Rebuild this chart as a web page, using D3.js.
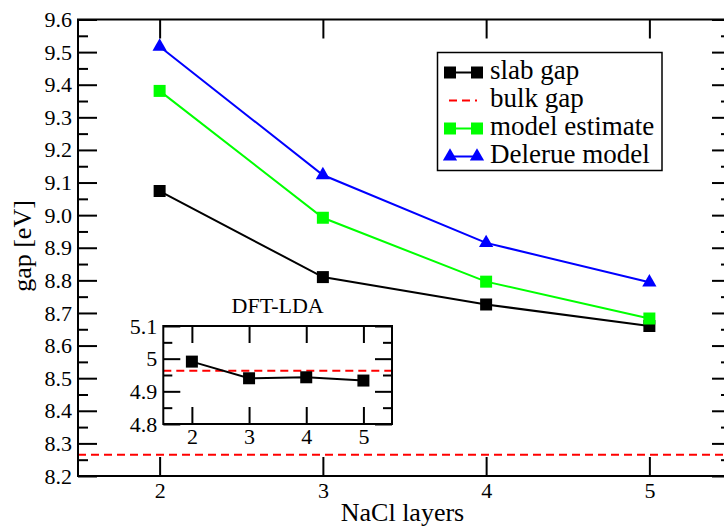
<!DOCTYPE html>
<html>
<head>
<meta charset="utf-8">
<script src="https://cdn.jsdelivr.net/npm/d3@7"></script>
<style>
  body { margin: 0; background: #fff; }
  svg { display: block; font-family: "Liberation Serif", "Times New Roman", serif; }
</style>
</head>
<body>
<div id="chart"></div>
<script>
// layers on the x axis
let layers = [2, 3, 4, 5];

// main panel values [eV]
let slabGap = [9.074, 8.81, 8.726, 8.66];
let modelEstimate = [9.381, 8.992, 8.796, 8.683];
let delerueModel = [9.517, 9.123, 8.915, 8.794];
let bulkGap = 8.265;

// inset (DFT-LDA) values [eV]
let ldaSlab = [4.991, 4.94, 4.943, 4.933];
let ldaBulk = 4.963;

let mainYTicks = [8.2, 8.3, 8.4, 8.5, 8.6, 8.7, 8.8, 8.9, 9.0, 9.1, 9.2, 9.3, 9.4, 9.5, 9.6];
let insetYTicks = [4.8, 4.9, 5.0, 5.1];

let legendItems = [
    {label: "slab gap", color: "#000", marker: "square", dashed: false},
    {label: "bulk gap", color: "#ff0000", marker: null, dashed: true},
    {label: "model estimate", color: "#00ff00", marker: "square", dashed: false},
    {label: "Delerue model", color: "#0000ff", marker: "triangle", dashed: false}
];

let width = 724, height = 527;

let svg = d3.select("#chart").append("svg")
    .attr("width", width)
    .attr("height", height);

// main panel
let box = {left: 78, right: 731, top: 19.5, bottom: 476};

let x = d3.scaleLinear().domain([1.5, 5.5]).range([box.left, box.right]);
let y = d3.scaleLinear().domain([8.2, 9.6]).range([box.bottom, box.top]);

let square = d3.symbol().type(d3.symbolSquare).size(144);
let triangle = d3.symbol().type(d3.symbolTriangle).size(88);

// ticks on all four sides, pointing inward, plus the frame
function drawTicks(g, xs, ys, xs_, ys_, b, major, minor, fmtY, fs, padX, padY) {
    let yMinor = [];
    for (let i = 0; i < ys.length - 1; i++) yMinor.push((ys[i] + ys[i + 1]) / 2);

    g.append("g")
        .attr("transform", `translate(${b.left},0)`)
        .call(d3.axisLeft(ys_).tickValues(ys).tickSizeInner(-major).tickSizeOuter(0).tickPadding(padY).tickFormat(fmtY));
    g.append("g")
        .attr("transform", `translate(${b.left},0)`)
        .call(d3.axisLeft(ys_).tickValues(yMinor).tickSizeInner(-minor).tickSizeOuter(0).tickFormat(""));
    g.append("g")
        .attr("transform", `translate(${b.right},0)`)
        .call(d3.axisRight(ys_).tickValues(ys).tickSizeInner(-major).tickSizeOuter(0).tickFormat(""));
    g.append("g")
        .attr("transform", `translate(${b.right},0)`)
        .call(d3.axisRight(ys_).tickValues(yMinor).tickSizeInner(-minor).tickSizeOuter(0).tickFormat(""));
    g.append("g")
        .attr("transform", `translate(0,${b.bottom})`)
        .call(d3.axisBottom(xs_).tickValues(xs).tickSizeInner(-major).tickSizeOuter(0).tickPadding(padX).tickFormat(d3.format("d")));
    g.append("g")
        .attr("transform", `translate(0,${b.top})`)
        .call(d3.axisTop(xs_).tickValues(xs).tickSizeInner(-major).tickSizeOuter(0).tickFormat(""));

    g.selectAll(".domain").remove();
    g.selectAll(".tick line").attr("stroke", "#000").attr("stroke-width", 2);
    g.selectAll(".tick text")
        .attr("fill", "#000")
        .style("font-family", '"Liberation Serif", serif')
        .style("font-size", fs + "px");

    g.append("rect")
        .attr("x", b.left).attr("y", b.top)
        .attr("width", b.right - b.left).attr("height", b.bottom - b.top)
        .attr("fill", "none").attr("stroke", "#000").attr("stroke-width", 2);
}

let main = svg.append("g");

// bulk gap
main.append("line")
    .attr("x1", box.left).attr("x2", box.right)
    .attr("y1", y(bulkGap)).attr("y2", y(bulkGap))
    .attr("stroke", "#ff0000").attr("stroke-width", 2)
    .attr("stroke-dasharray", "8,5");

let line = d3.line().x((d, i) => x(layers[i])).y(d => y(d));

let series = [
    {values: slabGap, color: "#000", marker: "square"},
    {values: modelEstimate, color: "#00ff00", marker: "square"},
    {values: delerueModel, color: "#0000ff", marker: "triangle"}
];

series.forEach(s => {
    main.append("path")
        .datum(s.values)
        .attr("d", line)
        .attr("fill", "none")
        .attr("stroke", s.color)
        .attr("stroke-width", 2);
    main.selectAll(null)
        .data(s.values)
        .enter().append("path")
        .attr("d", s.marker == "square" ? square : triangle)
        .attr("transform", (d, i) => `translate(${x(layers[i])},${y(d)})`)
        .attr("fill", s.color);
});

drawTicks(main, layers, mainYTicks, x, y, box, 19, 10, d3.format(".1f"), 22, 6, 6);

// axis titles
svg.append("text")
    .attr("x", (box.left + box.right) / 2 - 2)
    .attr("y", 521)
    .attr("text-anchor", "middle")
    .style("font-size", "26px")
    .text("NaCl layers");

svg.append("text")
    .attr("transform", "translate(31,246) rotate(-90)")
    .attr("text-anchor", "middle")
    .style("font-size", "26px")
    .text("gap [eV]");

// legend
let lg = svg.append("g");
lg.append("rect")
    .attr("x", 437.5).attr("y", 52.5)
    .attr("width", 224.5).attr("height", 118)
    .attr("fill", "#fff").attr("stroke", "#000").attr("stroke-width", 1.5);

legendItems.forEach((d, i) => {
    let cy = 72.5 + i * 28;
    lg.append("line")
        .attr("x1", d.dashed ? 449 : 450).attr("x2", 477)
        .attr("y1", cy).attr("y2", cy)
        .attr("stroke", d.color).attr("stroke-width", 2)
        .attr("stroke-dasharray", d.dashed ? "8,5" : null);
    if (d.marker) {
        [450, 477].forEach(mx => {
            lg.append("path")
                .attr("d", d.marker == "square" ? square : triangle)
                .attr("transform", `translate(${mx},${cy})`)
                .attr("fill", d.color);
        });
    }
    lg.append("text")
        .attr("x", 490)
        .attr("y", cy + 6.5)
        .style("font-size", "27px")
        .text(d.label);
});

// inset panel
let ibox = {left: 163.3, right: 392, top: 326, bottom: 424};
let xi = d3.scaleLinear().domain([1.5, 5.5]).range([ibox.left, ibox.right]);
let yi = d3.scaleLinear().domain([4.8, 5.1]).range([ibox.bottom, ibox.top]);

let inset = svg.append("g");

inset.append("rect")
    .attr("x", ibox.left).attr("y", ibox.top)
    .attr("width", ibox.right - ibox.left).attr("height", ibox.bottom - ibox.top)
    .attr("fill", "#fff");

inset.append("line")
    .attr("x1", ibox.left).attr("x2", ibox.right)
    .attr("y1", yi(ldaBulk)).attr("y2", yi(ldaBulk))
    .attr("stroke", "#ff0000").attr("stroke-width", 2)
    .attr("stroke-dasharray", "8,5");

inset.append("path")
    .datum(ldaSlab)
    .attr("d", d3.line().x((d, i) => xi(layers[i])).y(d => yi(d)))
    .attr("fill", "none").attr("stroke", "#000").attr("stroke-width", 2);

inset.selectAll(null)
    .data(ldaSlab)
    .enter().append("path")
    .attr("d", square)
    .attr("transform", (d, i) => `translate(${xi(layers[i])},${yi(d)})`)
    .attr("fill", "#000");

drawTicks(inset, layers, insetYTicks, xi, yi, ibox, 17, 9, d3.format(""), 22, 4, 6);

inset.append("text")
    .attr("x", (ibox.left + ibox.right) / 2)
    .attr("y", 313)
    .attr("text-anchor", "middle")
    .style("font-size", "22px")
    .text("DFT-LDA");
</script>
</body>
</html>
